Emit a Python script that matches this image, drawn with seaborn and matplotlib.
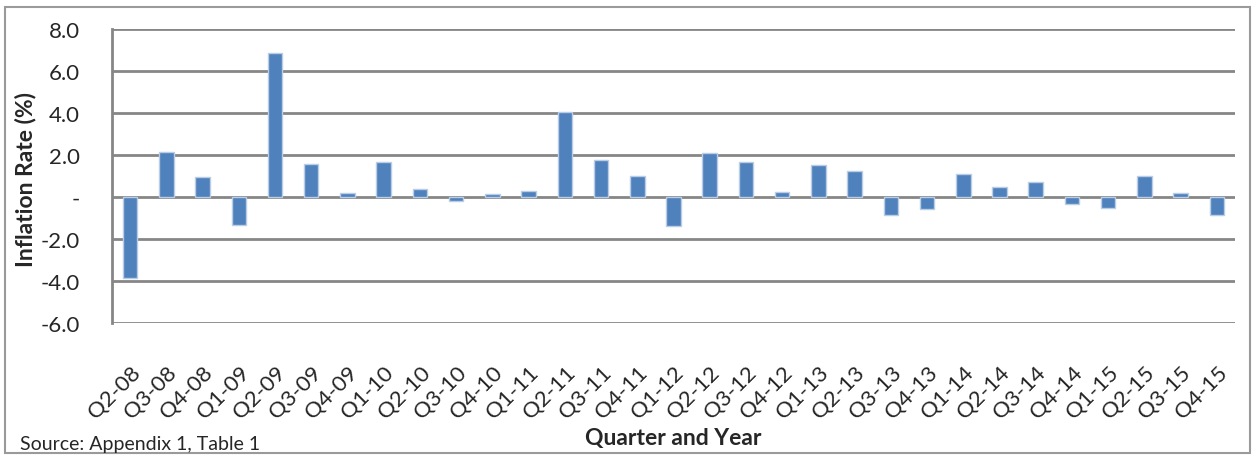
import matplotlib
matplotlib.use("Agg")
import matplotlib.pyplot as plt
import seaborn as sns
import pandas as pd
from matplotlib.patches import Rectangle

quarters = ["Q2-08", "Q3-08", "Q4-08", "Q1-09", "Q2-09", "Q3-09", "Q4-09",
            "Q1-10", "Q2-10", "Q3-10", "Q4-10", "Q1-11", "Q2-11", "Q3-11",
            "Q4-11", "Q1-12", "Q2-12", "Q3-12", "Q4-12", "Q1-13", "Q2-13",
            "Q3-13", "Q4-13", "Q1-14", "Q2-14", "Q3-14", "Q4-14", "Q1-15",
            "Q2-15", "Q3-15", "Q4-15"]
inflation = [-3.88, 2.12, 0.95, -1.31, 6.88, 1.57, 0.19,
             1.69, 0.40, -0.19, 0.13, 0.30, 4.07, 1.74,
             1.01, -1.38, 2.09, 1.65, 0.24, 1.52, 1.22,
             -0.84, -0.57, 1.09, 0.49, 0.71, -0.33, -0.52,
             1.00, 0.17, -0.84]
y_ticks = [8, 6, 4, 2, 0, -2, -4, -6]
y_labels = ["8.0", "6.0", "4.0", "2.0", "-", "-2.0", "-4.0", "-6.0"]

df = pd.DataFrame({"quarter": quarters, "rate": inflation})

sns.set_theme(style="white")
plt.rcParams["font.family"] = ["Lato", "DejaVu Sans"]

fig = plt.figure(figsize=(12.53, 4.56), dpi=100)
ax = fig.add_axes([0.0894, 0.2895, 0.8962, 0.6447])

sns.barplot(data=df, x="quarter", y="rate", color="#4F81BD", width=0.4,
            edgecolor="#B9CDE5", linewidth=1, saturation=1, ax=ax)

ax.set_ylim(-6, 8)
ax.set_xlim(-0.5, len(quarters) - 0.5)
ax.set_yticks(y_ticks)
ax.set_yticklabels(y_labels, fontsize=16)
ax.yaxis.grid(True, color="#868686", linewidth=2)
ax.set_axisbelow(True)
for s in ["top", "right", "bottom"]:
    ax.spines[s].set_visible(False)
ax.spines["left"].set_color("#868686")
ax.spines["left"].set_linewidth(2)
ax.tick_params(axis="y", length=0, pad=23)
ax.tick_params(axis="x", length=0, pad=28)
plt.setp(ax.get_xticklabels(), rotation=45, ha="right", rotation_mode="anchor", fontsize=16)

ax.set_xlabel("Quarter and Year", fontsize=16.5, fontweight="bold")
ax.set_ylabel("Inflation Rate (%)", fontsize=16.5, fontweight="bold")
ax.xaxis.set_label_coords(0.5, -0.354)
ax.yaxis.set_label_coords(-0.0677, 0.49)

fig.text(20 / 1253, 1 - 445 / 456, "Source: Appendix 1, Table 1", fontsize=14,
         ha="left", va="center")
fig.patches.append(Rectangle((5 / 1253, 2 / 456), 1245 / 1253, 446 / 456,
                             transform=fig.transFigure, fill=False,
                             edgecolor="#9A9A9A", linewidth=1.5))

fig.savefig("out.png", dpi=100)
